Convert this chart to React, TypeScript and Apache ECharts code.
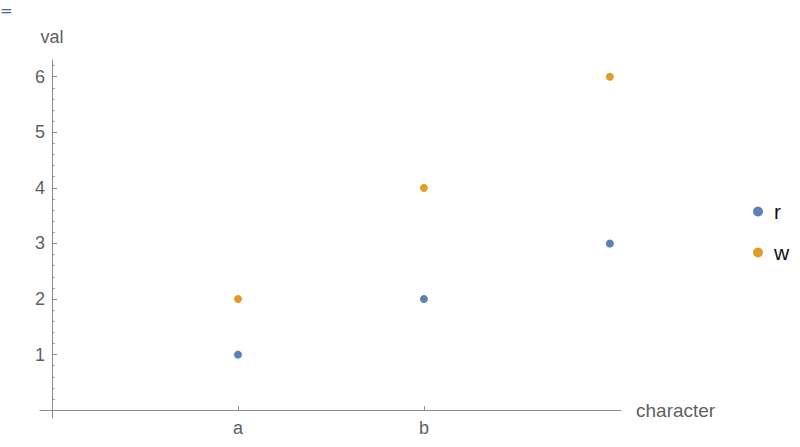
import { useRef, useEffect } from 'react'
import * as echarts from 'echarts'

const categories = ['a', 'b', '']
const categoryPositions = [1, 2, 3]
const rValues = [1, 2, 3]
const wValues = [2, 4, 6]
const yTickValues = [1, 2, 3, 4, 5, 6]
const yMinorTickValues = [0.2, 0.4, 0.6, 0.8, 1.2, 1.4, 1.6, 1.8, 2.2, 2.4, 2.6, 2.8, 3.2, 3.4, 3.6, 3.8, 4.2, 4.4, 4.6, 4.8, 5.2, 5.4, 5.6, 5.8, 6.2]

const axisGray = '#8c8c8c'
const labelGray = '#5f5f5f'

export default function App() {
  const chartRef = useRef<HTMLDivElement>(null)

  useEffect(() => {
    if (!chartRef.current) return
    const chart = echarts.init(chartRef.current, undefined, { renderer: 'svg' })

    const toPoints = (vals: number[]) => vals.map((v, i) => [categoryPositions[i], v])
    const labelFor = (v: number) => {
      const i = categoryPositions.indexOf(v)
      return i >= 0 ? categories[i] : ''
    }

    chart.setOption({
      animation: false,
      backgroundColor: '#ffffff',
      textStyle: { fontFamily: 'Liberation Sans, Arial, sans-serif' },
      grid: { left: 40, right: 179, top: 60, bottom: 29, containLabel: false, outerBoundsMode: 'none' },
      graphic: [
        { type: 'text', left: 0, top: 3, style: { text: '=', fontSize: 15, fill: '#3f6b8f', fontFamily: 'DejaVu Sans' } },
      ],
      legend: {
        orient: 'vertical',
        left: 748,
        top: 196,
        itemGap: 20,
        itemWidth: 10,
        itemHeight: 10,
        icon: 'circle',
        textStyle: { fontSize: 21, color: '#111111', padding: [0, 0, 0, 6] },
        data: ['r', 'w'],
      },
      xAxis: {
        type: 'value',
        min: -0.065,
        max: 3.06,
        name: 'character',
        nameLocation: 'end',
        nameGap: 15,
        nameTextStyle: { fontSize: 19, color: labelGray },
        axisLine: { onZero: true, lineStyle: { color: axisGray, width: 1 } },
        axisTick: { show: true, inside: true, length: 4, customValues: [1, 2], lineStyle: { color: axisGray } },
        axisLabel: { customValues: [1, 2], formatter: (v: number) => labelFor(v), fontSize: 18, color: labelGray, margin: 1 },
        splitLine: { show: false },
      },
      yAxis: [
        {
          type: 'value',
          position: 'left',
          min: -0.14,
          max: 6.3,
          name: 'val',
          nameLocation: 'end',
          nameGap: 14,
          nameTextStyle: { fontSize: 18, color: labelGray },
          axisLine: { show: true, onZero: true, lineStyle: { color: axisGray, width: 1 } },
          axisTick: { show: true, inside: true, length: 5, customValues: yTickValues, lineStyle: { color: axisGray } },
          axisLabel: { customValues: yTickValues, fontSize: 18, color: labelGray, margin: -5 },
          splitLine: { show: false },
        },
        {
          type: 'value',
          position: 'left',
          offset: -12,
          min: -0.14,
          max: 6.3,
          axisLine: { show: false, onZero: false },
          axisTick: { show: true, inside: true, length: 2.5, customValues: yMinorTickValues, lineStyle: { color: axisGray } },
          axisLabel: { show: false },
          splitLine: { show: false },
        },
      ],
      series: [
        {
          name: 'r', type: 'scatter', symbolSize: 8, yAxisIndex: 0,
          itemStyle: { color: '#5e81b5', opacity: 1 },
          data: toPoints(rValues),
        },
        {
          name: 'w', type: 'scatter', symbolSize: 8, yAxisIndex: 0,
          itemStyle: { color: '#e19c24', opacity: 1 },
          data: toPoints(wValues),
        },
      ],
    })

    return () => chart.dispose()
  }, [])

  return (
    <div
      ref={chartRef}
      style={{ position: 'fixed', left: 0, top: 0, width: 800, height: 447, background: '#fff' }}
    />
  )
}
